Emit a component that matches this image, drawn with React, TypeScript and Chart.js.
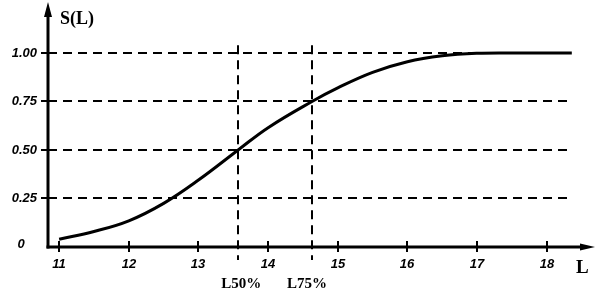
import React, { useEffect, useRef } from "react";
import { Chart, registerables } from "chart.js";

Chart.register(...registerables);

const lengths = [11, 11.5, 12, 12.5, 13, 13.57, 14, 14.63, 15, 15.5, 16, 16.5, 17, 17.5, 18, 18.36];
const survival = [0.04, 0.08, 0.135, 0.225, 0.345, 0.5, 0.615, 0.75, 0.82, 0.9, 0.955, 0.985, 0.998, 1.0, 1.0, 1.0];
const xTicks = [11, 12, 13, 14, 15, 16, 17, 18];
const xTickLabels = ["11", "12", "13", "14", "15", "16", "17", "18"];
const yTicks = [0, 0.25, 0.5, 0.75, 1.0];
const yTickLabels = ["0", "0.25", "0.50", "0.75", "1.00"];
const markerValues = [13.57, 14.63];
const markerLabels = ["L50%", "L75%"];
const markerLabelShift = [3, -5];

const X_MIN = 10.84;
const X_MAX = 18.65;
const Y_MIN = 0;
const Y_MAX = 1.247;

const tickFont = "italic bold 13px 'Liberation Sans Narrow', 'Liberation Sans', Arial, sans-serif";

const axesPlugin = {
  id: "customAxes",
  beforeDatasetsDraw(chart: any) {
    const { ctx, chartArea, scales } = chart;
    const xs = scales.x;
    const ys = scales.y;
    const left = chartArea.left;
    const bottom = chartArea.bottom;
    ctx.save();
    ctx.strokeStyle = "#000";
    ctx.lineWidth = 2;
    ctx.setLineDash([9, 6]);
    const gridRight = xs.getPixelForValue(18.36);
    yTicks.forEach((v) => {
      if (v === 0) return;
      const y = Math.round(ys.getPixelForValue(v));
      ctx.beginPath();
      ctx.moveTo(left, y);
      ctx.lineTo(gridRight, y);
      ctx.stroke();
    });
    markerValues.forEach((v) => {
      const x = Math.round(xs.getPixelForValue(v));
      ctx.beginPath();
      ctx.moveTo(x, ys.getPixelForValue(1.04));
      ctx.lineTo(x, bottom + 13);
      ctx.stroke();
    });
    ctx.setLineDash([]);
    ctx.restore();
  },
  afterDatasetsDraw(chart: any) {
    const { ctx, chartArea, scales } = chart;
    const xs = scales.x;
    const ys = scales.y;
    const left = chartArea.left;
    const right = chartArea.right;
    const top = chartArea.top;
    const bottom = chartArea.bottom;
    ctx.save();
    ctx.strokeStyle = "#000";
    ctx.fillStyle = "#000";
    ctx.lineWidth = 3;
    // y axis
    ctx.beginPath();
    ctx.moveTo(left, bottom + 1.5);
    ctx.lineTo(left, top + 8);
    ctx.stroke();
    ctx.beginPath();
    ctx.moveTo(left, top - 3);
    ctx.lineTo(left - 4, top + 12);
    ctx.lineTo(left + 4, top + 12);
    ctx.closePath();
    ctx.fill();
    // x axis
    ctx.beginPath();
    ctx.moveTo(left - 1.5, bottom);
    ctx.lineTo(right - 8, bottom);
    ctx.stroke();
    ctx.beginPath();
    ctx.moveTo(right + 3, bottom);
    ctx.lineTo(right - 12, bottom - 3.5);
    ctx.lineTo(right - 12, bottom + 3.5);
    ctx.closePath();
    ctx.fill();
    // x ticks
    ctx.lineWidth = 2;
    ctx.font = tickFont;
    ctx.textAlign = "center";
    ctx.textBaseline = "middle";
    xTicks.forEach((v, i) => {
      const x = Math.round(xs.getPixelForValue(v));
      ctx.beginPath();
      ctx.moveTo(x, bottom - 6);
      ctx.lineTo(x, bottom + 5);
      ctx.stroke();
      ctx.fillText(xTickLabels[i], x, bottom + 17);
    });
    // y ticks
    yTicks.forEach((v, i) => {
      const y = Math.round(ys.getPixelForValue(v));
      if (v !== 0) {
        ctx.beginPath();
        ctx.moveTo(left - 7, y);
        ctx.lineTo(left, y);
        ctx.stroke();
        ctx.textAlign = "right";
        ctx.fillText(yTickLabels[i], 37, y);
      } else {
        ctx.textAlign = "center";
        ctx.fillText(yTickLabels[i], 21, y - 3);
      }
    });
    // titles
    ctx.font = "bold 18px 'Liberation Serif', 'Times New Roman', serif";
    ctx.textAlign = "left";
    ctx.fillText("S(L)", 60, 19);
    ctx.font = "bold 19px 'Liberation Serif', 'Times New Roman', serif";
    ctx.fillText("L", 576, bottom + 21);
    ctx.font = "bold 15px 'Liberation Serif', 'Times New Roman', serif";
    ctx.textAlign = "center";
    markerValues.forEach((v, i) => {
      const x = xs.getPixelForValue(v);
      ctx.fillText(markerLabels[i], x + markerLabelShift[i], bottom + 37);
    });
    ctx.restore();
  },
};

export default function App() {
  const canvasRef = useRef<HTMLCanvasElement | null>(null);
  useEffect(() => {
    document.body.style.margin = "0";
    const canvas = canvasRef.current;
    if (!canvas) return;
    const chart = new Chart(canvas, {
      type: "line",
      data: {
        datasets: [
          {
            data: lengths.map((l, i) => ({ x: l, y: survival[i] })),
            borderColor: "#000",
            borderWidth: 3,
            pointRadius: 0,
            tension: 0.4,
            fill: false,
          },
        ],
      },
      options: {
        responsive: false,
        animation: false,
        devicePixelRatio: 1,
        layout: { padding: { left: 48, right: 7, top: 5, bottom: 46 } },
        plugins: { legend: { display: false }, tooltip: { enabled: false } },
        scales: {
          x: { type: "linear", min: X_MIN, max: X_MAX, display: false },
          y: { type: "linear", min: Y_MIN, max: Y_MAX, display: false },
        },
      },
      plugins: [axesPlugin],
    });
    return () => chart.destroy();
  }, []);
  return (
    <div style={{ width: 599, height: 293, background: "#fff" }}>
      <canvas ref={canvasRef} width={599} height={293} style={{ display: "block" }} />
    </div>
  );
}
